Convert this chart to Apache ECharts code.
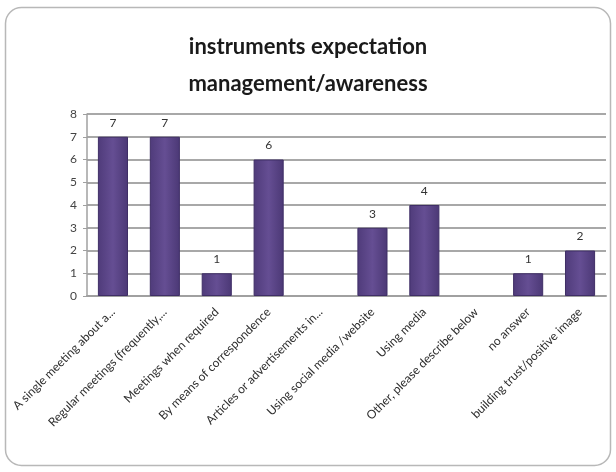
<!DOCTYPE html>
<html>
<head>
<meta charset="utf-8">
<script src="https://cdn.jsdelivr.net/npm/echarts@6/dist/echarts.min.js"></script>
<style>
  html, body { margin: 0; padding: 0; background: #ffffff; }
  #chart { width: 616px; height: 472px; }
</style>
</head>
<body>
<div id="chart"></div>
<script>
// Survey answers: instruments for expectation management / awareness
const categories = [
  'A single meeting about a...',
  'Regular meetings (frequently,...',
  'Meetings when required',
  'By means of correspondence',
  'Articles or advertisements in...',
  'Using social media /website',
  'Using media',
  'Other, please describe below',
  'no answer',
  'building trust/positive image'
];
const counts = [7, 7, 1, 6, 0, 3, 4, 0, 1, 2];
const yTicks = [0, 1, 2, 3, 4, 5, 6, 7, 8];

const FONT = 'Lato, "Open Sans", sans-serif';

const barFill = new echarts.graphic.LinearGradient(0, 0, 1, 0, [
  { offset: 0, color: '#4f3b7a' },
  { offset: 0.5, color: '#654e93' },
  { offset: 1, color: '#4b3875' }
]);

const chart = echarts.init(document.getElementById('chart'), null, { renderer: 'canvas' });

chart.setOption({
  backgroundColor: '#ffffff',
  animation: false,
  title: {
    text: 'instruments expectation\nmanagement/awareness',
    left: 'center',
    top: 23,
    textStyle: {
      fontFamily: FONT,
      fontSize: 22,
      fontWeight: 'bold',
      color: '#1a1a1a',
      lineHeight: 37
    }
  },
  graphic: [{
    type: 'rect',
    shape: { x: 5.5, y: 7.5, width: 605, height: 458, r: 16 },
    style: { fill: 'none', stroke: '#b8b8b8', lineWidth: 1.5 },
    z: -1
  }],
  grid: { left: 87, right: 10, top: 114, bottom: 176 },
  xAxis: {
    type: 'category',
    data: categories,
    axisLine: { lineStyle: { color: '#a0a0a0', width: 2 } },
    axisTick: { show: false },
    axisLabel: {
      rotate: 45,
      interval: 0,
      margin: 14,
      fontFamily: FONT,
      fontSize: 12,
      color: '#2e2e2e'
    }
  },
  yAxis: {
    type: 'value',
    min: yTicks[0],
    max: yTicks[yTicks.length - 1],
    interval: 1,
    axisLine: { show: true, lineStyle: { color: '#a0a0a0', width: 1.5 } },
    axisTick: { show: true, length: 4, lineStyle: { color: '#a0a0a0' } },
    axisLabel: {
      fontFamily: FONT,
      fontSize: 12,
      color: '#444444',
      margin: 10
    },
    splitLine: { lineStyle: { color: '#a8a8a8', width: 2 } }
  },
  series: [{
    type: 'bar',
    barWidth: '58%',
    data: counts.map(v => ({
      value: v,
      itemStyle: v === 0 ? { borderWidth: 0, color: 'rgba(0,0,0,0)' } : undefined
    })),
    itemStyle: {
      color: barFill,
      borderColor: '#3f2e66',
      borderWidth: 1
    },
    label: {
      show: true,
      position: 'top',
      distance: 8,
      fontFamily: FONT,
      fontSize: 12,
      color: '#333333',
      formatter: p => (p.value === 0 ? '' : String(p.value))
    }
  }]
});
</script>
</body>
</html>
